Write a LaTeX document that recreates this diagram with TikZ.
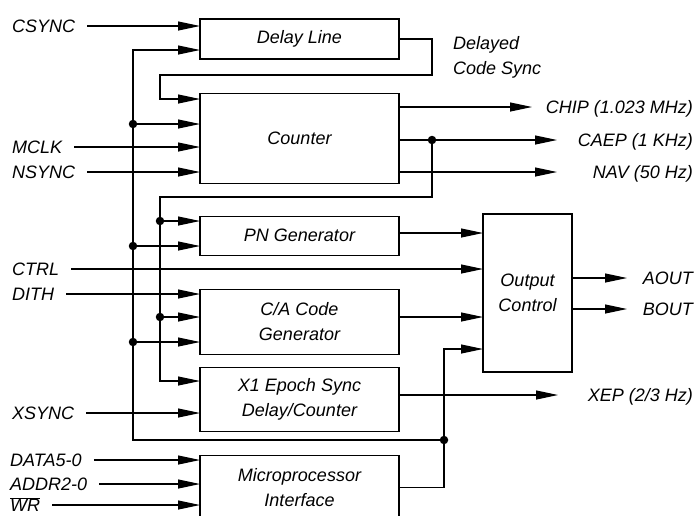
\documentclass[tikz,border=0pt]{standalone}
\usepackage{fontspec}
\setmainfont{Liberation Sans}
\usetikzlibrary{positioning,arrows.meta}

\begin{document}
\begin{tikzpicture}[
  x=1pt, y=-1pt,
  font=\fontsize{18}{25}\selectfont\itshape,
  block/.style={draw, line width=1.1pt, minimum width=199pt, inner sep=0pt, align=center},
  lbl/.style={inner sep=0pt, text height=13pt, text depth=0pt},
  sig/.style={-{Triangle[length=22pt,width=9pt]}, line width=1.1pt},
  dot/.style={circle, fill, inner sep=0pt, minimum size=8.5pt}
]
\useasboundingbox (0,0) rectangle (695,515);

\node[block, minimum height=40pt] (delay) at (299.5,39) {Delay Line};
\node[block, minimum height=90pt, below=33pt of delay] (counter) {Counter};
\node[block, minimum height=39pt, below=32pt of counter] (pngen) {PN Generator};
\node[block, minimum height=65pt, below=33pt of pngen] (cagen) {C/A Code\\Generator};
\node[block, minimum height=64pt, below=12pt of cagen] (epoch) {X1 Epoch Sync\\Delay/Counter};
\node[block, minimum height=64pt, below=23pt of epoch] (micro) {Microprocessor\\Interface};
\node[block, minimum width=89pt, minimum height=158pt] (outctl) at (527.5,293) {Output\\Control};

\node[inner sep=0pt, align=left, anchor=north west] (dcs) at (453,36) {Delayed\\Code Sync};

\node[lbl, anchor=west] (csync) at (12,26) {CSYNC};
\node[lbl, anchor=west] (mclk) at (12,147) {MCLK};
\node[lbl, anchor=west] (nsync) at (12,172) {NSYNC};
\node[lbl, anchor=west] (ctrl) at (12,269) {CTRL};
\node[lbl, anchor=west] (dith) at (12,294) {DITH};
\node[lbl, anchor=west] (xsync) at (12,413) {XSYNC};
\node[lbl, anchor=west] (data) at (10,460) {DATA5-0};
\node[lbl, anchor=west] (addr) at (10,484) {ADDR2-0};
\node[lbl, anchor=west] (wr) at (10,505) {$\overline{\mbox{WR}}$};

\node[lbl, anchor=east] (chip) at (693,107) {CHIP (1.023 MHz)};
\node[lbl, anchor=east] (caep) at (693,140) {CAEP (1 KHz)};
\node[lbl, anchor=east] (nav) at (693,172) {NAV (50 Hz)};
\node[lbl, anchor=east] (aout) at (693,278) {AOUT};
\node[lbl, anchor=east] (bout) at (693,309) {BOUT};
\node[lbl, anchor=east] (xep) at (693,395) {XEP (2/3 Hz)};

\coordinate (dl1) at (200,26);
\coordinate (dl2) at (200,50);
\coordinate (ct1) at (200,99);
\coordinate (ct2) at (200,124);
\coordinate (ct3) at (200,147);
\coordinate (ct4) at (200,172);
\coordinate (pn1) at (200,221);
\coordinate (pn2) at (200,246);
\coordinate (ca1) at (200,294);
\coordinate (ca2) at (200,317);
\coordinate (ca3) at (200,342);
\coordinate (ep1) at (200,381);
\coordinate (ep2) at (200,413);
\coordinate (mp1) at (200,460);
\coordinate (mp2) at (200,484);
\coordinate (mp3) at (200,505);
\coordinate (oc1) at (483,233);
\coordinate (oc2) at (483,269);
\coordinate (oc3) at (483,317);
\coordinate (oc4) at (483,349);
\coordinate (chipt) at (532,107);
\coordinate (caept) at (557,140);
\coordinate (navt) at (557,172);
\coordinate (aoutt) at (627,278);
\coordinate (boutt) at (627,309);
\coordinate (xept) at (558,395);
\coordinate (lb) at (133,440);
\coordinate (lpR) at (432,75);
\coordinate (lpL) at (160,75);
\coordinate (ibR) at (432,197);
\coordinate (ibL) at (160,197);

\node[dot] (j1) at (133,124) {};
\node[dot] (j2) at (133,246) {};
\node[dot] (j3) at (133,342) {};
\node[dot] (k1) at (160,221) {};
\node[dot] (k2) at (160,317) {};
\node[dot] (jc) at (432,140) {};
\node[dot] (jm) at (444,440) {};

\draw[sig, shorten <=12pt] (csync) -- (dl1);
\draw[sig, shorten <=12pt] (mclk) -- (ct3);
\draw[sig, shorten <=12pt] (nsync) -- (ct4);
\draw[sig, shorten <=12pt] (ctrl) -- (oc2);
\draw[sig, shorten <=12pt] (dith) -- (ca1);
\draw[sig, shorten <=12pt] (xsync) -- (ep2);
\draw[sig, shorten <=12pt] (data) -- (mp1);
\draw[sig, shorten <=12pt] (addr) -- (mp2);
\draw[sig, shorten <=12pt] (wr) -- (mp3);

\draw[sig] (jm) -- (lb) |- (dl2);
\draw[sig] (j1) -- (ct2);
\draw[sig] (j2) -- (pn2);
\draw[sig] (j3) -- (ca3);
\draw[sig] (delay.east) -| (lpR) -- (lpL) |- (ct1);
\draw[sig] (jc) -- (ibR) -- (ibL) |- (ep1);
\draw[sig] (k1) -- (pn1);
\draw[sig] (k2) -- (ca2);

\draw[sig] (counter.east |- chipt) -- (chipt);
\draw[sig] (counter.east |- caept) -- (caept);
\draw[sig] (counter.east |- navt) -- (navt);
\draw[sig] (pngen.east |- oc1) -- (oc1);
\draw[sig] (cagen.east |- oc3) -- (oc3);
\draw[sig] (epoch.east |- xept) -- (xept);
\draw[sig] (micro.east) -| (jm) |- (oc4);
\draw[sig] (outctl.east |- aoutt) -- (aoutt);
\draw[sig] (outctl.east |- boutt) -- (boutt);
\end{tikzpicture}
\end{document}
